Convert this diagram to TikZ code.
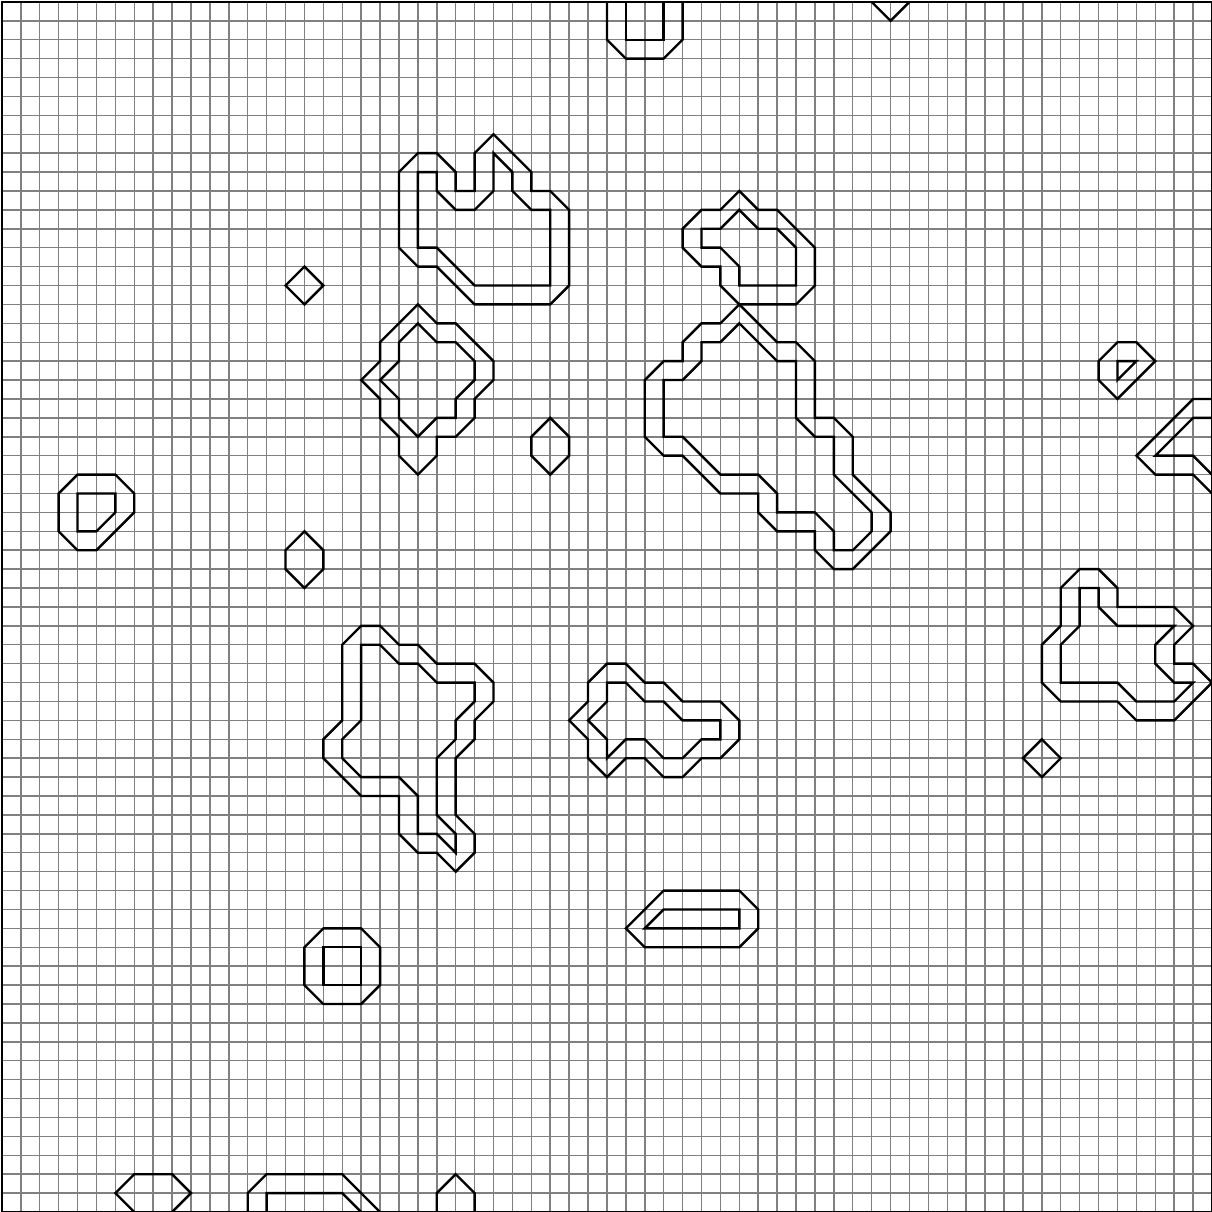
\documentclass[tikz,border=0pt]{standalone}
\usepackage{tikz}

\begin{document}
\begin{tikzpicture}[x=1cm,y=-1cm,scale=0.5,
    gridline/.style={gray,line width=1.1pt},
    contour/.style={black,line width=1.8pt,line join=miter}]
\useasboundingbox (-0.1,-0.1) rectangle (64,64);

% Grid
\draw[gridline] (0,0) grid (64,64);
\draw[black,line width=2pt] (0,0) rectangle (64,64);

% Top edge
\draw[contour] (32,0) -- (32,2) -- (33,3) -- (35,3) -- (36,2) -- (36,0);
\draw[contour] (33,0) -- (33,2) -- (35,2) -- (35,0);
\draw[contour] (46,0) -- (47,1) -- (48,0);

% Small diamonds and hexagons
\foreach \cx/\cy in {16/14,55/39}
    \draw[contour] (\cx,\cy) -- ++(1,1) -- ++(-1,1) -- ++(-1,-1) -- cycle;
\foreach \cx/\cy in {29/22,16/28}
    \draw[contour] (\cx,\cy) -- ++(1,1) -- ++(0,1) -- ++(-1,1) -- ++(-1,-1) -- ++(0,-1) -- cycle;

% Blob upper left
\draw[contour] (26,7) -- (28,9) -- (28,10) -- (29,10) -- (30,11) -- (30,15) -- (29,16) -- (25,16) -- (23,14) -- (22,14) -- (21,13) -- (21,9) -- (22,8) -- (23,8) -- (24,9) -- (24,10) -- (25,10) -- (25,8) -- cycle;
\draw[contour] (26,8) -- (27,9) -- (27,10) -- (28,11) -- (29,11) -- (29,15) -- (25,15) -- (23,13) -- (22,13) -- (22,9) -- (23,9) -- (23,10) -- (24,11) -- (25,11) -- (26,10) -- cycle;

% Blob upper right
\draw[contour] (39,10) -- (40,11) -- (41,11) -- (43,13) -- (43,15) -- (42,16) -- (39,16) -- (38,15) -- (38,14) -- (37,14) -- (36,13) -- (36,12) -- (37,11) -- (38,11) -- cycle;
\draw[contour] (39,11) -- (40,12) -- (41,12) -- (42,13) -- (42,15) -- (39,15) -- (39,14) -- (38,13) -- (37,13) -- (37,12) -- (38,12) -- cycle;

% Long blob
\draw[contour] (39,16) -- (41,18) -- (42,18) -- (43,19) -- (43,22) -- (44,22) -- (45,23) -- (45,25) -- (47,27) -- (47,28) -- (45,30) -- (44,30) -- (43,29) -- (43,28) -- (41,28) -- (40,27) -- (40,26) -- (38,26) -- (36,24) -- (35,24) -- (34,23) -- (34,20) -- (35,19) -- (36,19) -- (36,18) -- (37,17) -- (38,17) -- cycle;
\draw[contour] (39,17) -- (41,19) -- (42,19) -- (42,22) -- (43,23) -- (44,23) -- (44,25) -- (46,27) -- (46,28) -- (45,29) -- (44,29) -- (44,28) -- (43,27) -- (41,27) -- (41,26) -- (40,25) -- (38,25) -- (36,23) -- (35,23) -- (35,20) -- (36,20) -- (37,19) -- (37,18) -- (38,18) -- cycle;

% Blob middle left
\draw[contour] (22,16) -- (23,17) -- (24,17) -- (26,19) -- (26,20) -- (25,21) -- (25,22) -- (24,23) -- (23,23) -- (23,24) -- (22,25) -- (21,24) -- (21,23) -- (20,22) -- (20,21) -- (19,20) -- (20,19) -- (20,18) -- cycle;
\draw[contour] (22,17) -- (23,18) -- (24,18) -- (25,19) -- (25,20) -- (24,21) -- (24,22) -- (23,22) -- (22,23) -- (21,22) -- (21,21) -- (20,20) -- (21,19) -- (21,18) -- cycle;

% Right side
\draw[contour] (59,18) -- (60,18) -- (61,19) -- (59,21) -- (58,20) -- (58,19) -- cycle;
\draw[contour] (59,19) -- (60,19) -- (59,20) -- cycle;
\draw[contour] (64,21) -- (63,21) -- (60,24) -- (61,25) -- (63,25) -- (64,26);
\draw[contour] (64,22) -- (63,22) -- (61,24) -- (63,24) -- (64,25);
\draw[contour] (57,30) -- (58,30) -- (59,31) -- (59,32) -- (62,32) -- (63,33) -- (62,34) -- (62,35) -- (63,35) -- (64,36) -- (62,38) -- (60,38) -- (59,37) -- (56,37) -- (55,36) -- (55,34) -- (56,33) -- (56,31) -- cycle;
\draw[contour] (57,31) -- (58,31) -- (58,32) -- (59,33) -- (62,33) -- (61,34) -- (61,35) -- (62,36) -- (63,36) -- (62,37) -- (60,37) -- (59,36) -- (56,36) -- (56,34) -- (57,33) -- cycle;

% Left octagon
\draw[contour] (4,25) -- (6,25) -- (7,26) -- (7,27) -- (5,29) -- (4,29) -- (3,28) -- (3,26) -- cycle;
\draw[contour] (4,26) -- (6,26) -- (6,27) -- (5,28) -- (4,28) -- cycle;

% Blob lower left
\draw[contour] (19,33) -- (20,33) -- (21,34) -- (22,34) -- (23,35) -- (25,35) -- (26,36) -- (26,37) -- (25,38) -- (25,39) -- (24,40) -- (24,43) -- (25,44) -- (25,45) -- (24,46) -- (23,45) -- (22,45) -- (21,44) -- (21,42) -- (19,42) -- (17,40) -- (17,39) -- (18,38) -- (18,34) -- cycle;
\draw[contour] (19,34) -- (20,34) -- (21,35) -- (22,35) -- (23,36) -- (25,36) -- (25,37) -- (24,38) -- (24,39) -- (23,40) -- (23,43) -- (24,44) -- (24,45) -- (23,44) -- (22,44) -- (22,42) -- (21,41) -- (19,41) -- (18,40) -- (18,39) -- (19,38) -- cycle;

% Blob lower middle
\draw[contour] (32,35) -- (33,35) -- (34,36) -- (35,36) -- (36,37) -- (38,37) -- (39,38) -- (39,39) -- (38,40) -- (37,40) -- (36,41) -- (35,41) -- (34,40) -- (33,40) -- (32,41) -- (31,40) -- (31,39) -- (30,38) -- (31,37) -- (31,36) -- cycle;
\draw[contour] (32,36) -- (33,36) -- (34,37) -- (35,37) -- (36,38) -- (38,38) -- (38,39) -- (37,39) -- (36,40) -- (35,40) -- (34,39) -- (33,39) -- (32,40) -- (32,39) -- (31,38) -- (32,37) -- cycle;

% Bar and square
\draw[contour] (35,47) -- (39,47) -- (40,48) -- (40,49) -- (39,50) -- (34,50) -- (33,49) -- cycle;
\draw[contour] (35,48) -- (39,48) -- (39,49) -- (34,49) -- cycle;
\draw[contour] (17,49) -- (19,49) -- (20,50) -- (20,52) -- (19,53) -- (17,53) -- (16,52) -- (16,50) -- cycle;
\draw[contour] (17,50) rectangle (19,52);

% Bottom edge
\draw[contour] (7,64) -- (6,63) -- (7,62) -- (9,62) -- (10,63) -- (9,64);
\draw[contour] (13,64) -- (13,63) -- (14,62) -- (18,62) -- (20,64);
\draw[contour] (14,64) -- (14,63) -- (18,63) -- (19,64);
\draw[contour] (23,64) -- (23,63) -- (24,62) -- (25,63) -- (25,64);
\end{tikzpicture}
\end{document}
